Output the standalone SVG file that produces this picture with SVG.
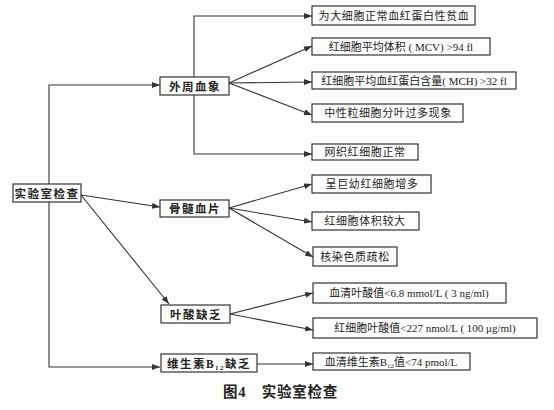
<svg xmlns="http://www.w3.org/2000/svg" width="554" height="410" viewBox="0 0 554 410">
<style>
.box{fill:#fff;stroke:#333;stroke-width:1.2}
.ln{fill:none;stroke:#333;stroke-width:1.1}
text{font-family:"Liberation Serif","Noto Sans CJK SC",serif;font-size:11px;fill:#222}
.m{text-anchor:middle}
.k{font-size:11.5px;letter-spacing:1.5px;font-weight:bold}
.cap{font-size:14.5px;font-weight:bold;letter-spacing:0.8px}
</style>
<defs>
<marker id="a" markerUnits="userSpaceOnUse" markerWidth="8" markerHeight="6" refX="8" refY="3" orient="auto">
<path d="M0,0 L8,3 L0,6 z" fill="#333"/>
</marker>
</defs>
<g id="connectors">
<polyline class="ln" points="49,184 49,85 160,85" marker-end="url(#a)"/>
<polyline class="ln" points="49,202 49,367 160,367" marker-end="url(#a)"/>
<line class="ln" x1="81" y1="195" x2="160" y2="207" marker-end="url(#a)"/>
<line class="ln" x1="81" y1="195" x2="169" y2="304" marker-end="url(#a)"/>
<polyline class="ln" points="194,77 194,16 312,16" marker-end="url(#a)"/>
<polyline class="ln" points="194,95 194,154 312,154" marker-end="url(#a)"/>
<line class="ln" x1="229" y1="83" x2="312" y2="46" marker-end="url(#a)"/>
<line class="ln" x1="229" y1="83" x2="312" y2="82" marker-end="url(#a)"/>
<line class="ln" x1="229" y1="83" x2="312" y2="115" marker-end="url(#a)"/>
<line class="ln" x1="229" y1="208" x2="312" y2="184" marker-end="url(#a)"/>
<line class="ln" x1="229" y1="208" x2="312" y2="222" marker-end="url(#a)"/>
<line class="ln" x1="229" y1="208" x2="313" y2="257" marker-end="url(#a)"/>
<line class="ln" x1="230" y1="314" x2="313" y2="293" marker-end="url(#a)"/>
<line class="ln" x1="230" y1="314" x2="313" y2="330" marker-end="url(#a)"/>
<line class="ln" x1="257" y1="364" x2="313" y2="364" marker-end="url(#a)"/>
</g>
<g id="root"><rect class="box" x="13" y="184" width="68" height="18"/><text class="m k" x="47" y="197.5">实验室检查</text></g>
<g id="n1"><rect class="box" x="160" y="77" width="69" height="18"/><text class="m k" x="195" y="90.5">外周血象</text></g>
<g id="n2"><rect class="box" x="160" y="200" width="69" height="17"/><text class="m k" x="195" y="212.5">骨髓血片</text></g>
<g id="n3"><rect class="box" x="161" y="305" width="69" height="18"/><text class="m k" x="196" y="318.5">叶酸缺乏</text></g>
<g id="n4"><rect class="box" x="161" y="354" width="96" height="18"/><text class="m" x="209" y="367.5" style="font-size:11.5px;letter-spacing:1.5px;font-weight:bold">维生素B<tspan font-size="7" dy="2">12</tspan><tspan dy="-2">缺乏</tspan></text></g>
<g id="a1"><rect class="box" x="312" y="6" width="163" height="19"/><text class="m" x="394" y="19.5" style="letter-spacing:0.6px">为大细胞正常血红蛋白性贫血</text></g>
<g id="a2"><rect class="box" x="312" y="38" width="178" height="17"/><text class="m" x="401" y="50.5">红细胞平均体积 ( MCV) &gt;94 fl</text></g>
<g id="a3"><rect class="box" x="312" y="72" width="204" height="17"/><text class="m" x="414" y="84.5">红细胞平均血红蛋白含量( MCH) &gt;32 fl</text></g>
<g id="a4"><rect class="box" x="312" y="104" width="151" height="18"/><text class="m" x="388" y="117" style="letter-spacing:0.6px">中性粒细胞分叶过多现象</text></g>
<g id="a5"><rect class="box" x="312" y="144" width="106" height="16"/><text class="m" x="365" y="156" style="letter-spacing:0.6px">网织红细胞正常</text></g>
<g id="b1"><rect class="box" x="312" y="175" width="119" height="18"/><text class="m" x="372" y="188" style="letter-spacing:0.6px">呈巨幼红细胞增多</text></g>
<g id="b2"><rect class="box" x="312" y="212" width="107" height="18"/><text class="m" x="365" y="225" style="letter-spacing:0.6px">红细胞体积较大</text></g>
<g id="b3"><rect class="box" x="313" y="247" width="84" height="19"/><text class="m" x="355" y="260.5" style="letter-spacing:0.6px">核染色质疏松</text></g>
<g id="c1"><rect class="box" x="313" y="283" width="193" height="20"/><text class="m" x="409" y="297">血清叶酸值&lt;6.8 mmol/L ( 3 ng/ml)</text></g>
<g id="c2"><rect class="box" x="313" y="318" width="224" height="20"/><text class="m" x="425" y="332">红细胞叶酸值&lt;227 nmol/L ( 100 μg/ml)</text></g>
<g id="d1"><rect class="box" x="313" y="353" width="157" height="17"/><text class="m" x="391" y="365.5">血清维生素B<tspan font-size="7" dy="2">12</tspan><tspan dy="-2">值&lt;74 pmol/L</tspan></text></g>
<text class="cap" x="223" y="397">图4　实验室检查</text>
</svg>
